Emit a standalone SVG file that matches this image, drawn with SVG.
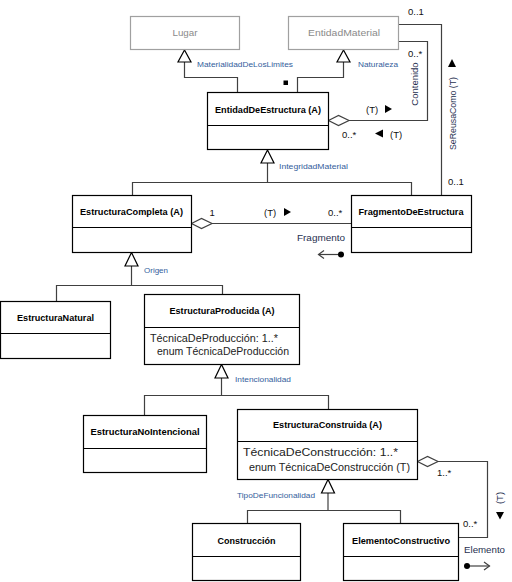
<svg xmlns="http://www.w3.org/2000/svg" width="512" height="582" viewBox="0 0 512 582">
<style>
.box{fill:#fff;stroke:#000;stroke-width:1.2}
.gbox{fill:#fff;stroke:#a0a0a0;stroke-width:1.2}
.div{stroke:#000;stroke-width:1.2}
.ln{fill:none;stroke:#404040;stroke-width:1.2}
.tri{fill:#fff;stroke:#000;stroke-width:1.2}
.dia{fill:#fff;stroke:#404040;stroke-width:1.2}
.sol{fill:#000;stroke:none}
text{font-family:"Liberation Sans",Arial,sans-serif}
.title{font-weight:bold;font-size:9.5px;fill:#000;text-anchor:middle}
.gtitle{font-size:9.5px;fill:#8a8a8a;text-anchor:middle}
.lbl{font-size:7.5px;fill:#34609c}
.nav{font-size:9.5px;fill:#1f3050}
.mult{font-size:9.5px;fill:#111}
.attr{font-size:10px;fill:#222}
</style>
<g id="connectors">
  <polyline class="ln" points="184.5,62 184.5,77.5 237.5,77.5 237.5,92.5"/>
  <polygon class="tri" points="184.5,50 178,62 191,62"/>
  <polyline class="ln" points="343.5,62 343.5,77.5 297.5,77.5 297.5,92.5"/>
  <polygon class="tri" points="343.5,50 337,62 350,62"/>
  <rect class="sol" x="283.5" y="80.5" width="4.5" height="4.5"/>
  <polyline class="ln" points="267.5,163 267.5,182.5"/>
  <polyline class="ln" points="132.5,195.5 132.5,182.5 411.5,182.5 411.5,195.5"/>
  <polygon class="tri" points="267.5,150 261,163 274,163"/>
  <polyline class="ln" points="398.5,41.5 427.5,41.5 427.5,120.5 349,120.5"/>
  <polygon class="dia" points="328.5,120.5 338.5,115.5 349,120.5 338.5,125.5"/>
  <polyline class="ln" points="398.5,24.5 441.5,24.5 441.5,195.5"/>
  <line class="ln" x1="212" y1="223.5" x2="351.5" y2="223.5"/>
  <polygon class="dia" points="191.5,223.5 201.5,218.5 212,223.5 201.5,228.5"/>
  <polyline class="ln" points="131.5,266 131.5,285.5"/>
  <polyline class="ln" points="56.5,301.5 56.5,285.5 222.5,285.5 222.5,294.5"/>
  <polygon class="tri" points="131.5,252.5 125,266 138,266"/>
  <polyline class="ln" points="221.5,378 221.5,395.5"/>
  <polyline class="ln" points="144.5,415.5 144.5,395.5 328.5,395.5 328.5,409.5"/>
  <polygon class="tri" points="221.5,364.5 215,378 228,378"/>
  <polyline class="ln" points="328,493 328,510.5"/>
  <polyline class="ln" points="247.5,523.5 247.5,510.5 400.5,510.5 400.5,523.5"/>
  <polygon class="tri" points="328,479.5 321.5,493 334.5,493"/>
  <polyline class="ln" points="438,461.5 487.5,461.5 487.5,537.5 458.5,537.5"/>
  <polygon class="dia" points="417.5,461.5 427.5,456.5 438,461.5 427.5,466.5"/>

  <text class="lbl" x="197" y="67" textLength="96" lengthAdjust="spacingAndGlyphs">MaterialidadDeLosLimites</text>
  <text class="lbl" x="358" y="67" textLength="40" lengthAdjust="spacingAndGlyphs">Naturaleza</text>
  <text class="lbl" x="279" y="168.5" textLength="69" lengthAdjust="spacingAndGlyphs">IntegridadMaterial</text>
  <text class="lbl" x="144" y="273" textLength="24" lengthAdjust="spacingAndGlyphs">Origen</text>
  <text class="lbl" x="235" y="382" textLength="56" lengthAdjust="spacingAndGlyphs">Intencionalidad</text>
  <text class="lbl" x="237" y="498" textLength="78" lengthAdjust="spacingAndGlyphs">TipoDeFuncionalidad</text>

  <text class="mult" x="408" y="14.5">0..1</text>
  <text class="mult" x="408" y="56.5">0..*</text>
  <text class="nav" transform="translate(418,84) rotate(-90)" text-anchor="middle">Contenido</text>
  <polygon class="sol" points="448,67 456,67 452,59"/>
  <text class="nav" transform="translate(455.5,113.5) rotate(-90)" text-anchor="middle" textLength="73" lengthAdjust="spacingAndGlyphs">SeReusaComo (T)</text>
  <text class="mult" x="366" y="112.5">(T)</text>
  <polygon class="sol" points="385,105 385,113 392,109"/>
  <text class="mult" x="342" y="137.5">0..*</text>
  <polygon class="sol" points="383,129.5 383,137.5 375,133.5"/>
  <text class="mult" x="390" y="137.5">(T)</text>
  <text class="mult" x="448" y="184.5">0..1</text>

  <text class="mult" x="209.5" y="215.5">1</text>
  <text class="mult" x="264" y="215.5">(T)</text>
  <polygon class="sol" points="284,208 284,216 291,212"/>
  <text class="mult" x="328" y="215.5">0..*</text>
  <text class="nav" x="297" y="240.5" textLength="48" lengthAdjust="spacingAndGlyphs">Fragmento</text>
  <line class="ln" x1="318.5" y1="254.5" x2="341" y2="254.5"/>
  <polyline class="ln" points="324,250.5 318.5,254.5 324,258.5"/>
  <circle class="sol" cx="341" cy="254.5" r="3"/>

  <text class="mult" x="437" y="475.5">1..*</text>
  <text class="mult" x="463" y="527">0..*</text>
  <text class="nav" transform="translate(503,498) rotate(-90)" text-anchor="middle">(T)</text>
  <polygon class="sol" points="496,512 504,512 500,519.5"/>
  <text class="nav" x="464" y="553" textLength="41" lengthAdjust="spacingAndGlyphs">Elemento</text>
  <line class="ln" x1="467" y1="566" x2="489.5" y2="566"/>
  <polyline class="ln" points="484,562 489.5,566 484,570"/>
  <circle class="sol" cx="467" cy="566" r="3"/>
</g>
<g id="Lugar">
  <rect class="gbox" x="130.5" y="16.5" width="109" height="33"/>
  <text class="gtitle" x="185" y="36" textLength="25" lengthAdjust="spacingAndGlyphs">Lugar</text>
</g>
<g id="EntidadMaterial">
  <rect class="gbox" x="288.5" y="16.5" width="110" height="33"/>
  <text class="gtitle" x="344" y="36" textLength="72" lengthAdjust="spacingAndGlyphs">EntidadMaterial</text>
</g>
<g id="EntidadDeEstructura">
  <rect class="box" x="207.5" y="92.5" width="121" height="57"/>
  <line class="div" x1="207.5" y1="125.5" x2="328.5" y2="125.5"/>
  <text class="title" x="268" y="112.5" textLength="106" lengthAdjust="spacingAndGlyphs">EntidadDeEstructura (A)</text>
</g>
<g id="EstructuraCompleta">
  <rect class="box" x="72.5" y="195.5" width="119" height="57"/>
  <line class="div" x1="72.5" y1="227.5" x2="191.5" y2="227.5"/>
  <text class="title" x="131.5" y="214.5" textLength="103" lengthAdjust="spacingAndGlyphs">EstructuraCompleta (A)</text>
</g>
<g id="FragmentoDeEstructura">
  <rect class="box" x="351.5" y="195.5" width="120" height="57"/>
  <line class="div" x1="351.5" y1="227.5" x2="471.5" y2="227.5"/>
  <text class="title" x="411" y="214.5" textLength="105" lengthAdjust="spacingAndGlyphs">FragmentoDeEstructura</text>
</g>
<g id="EstructuraNatural">
  <rect class="box" x="0.5" y="301.5" width="110" height="57"/>
  <line class="div" x1="0.5" y1="333.5" x2="110.5" y2="333.5"/>
  <text class="title" x="55.5" y="320.5" textLength="77" lengthAdjust="spacingAndGlyphs">EstructuraNatural</text>
</g>
<g id="EstructuraProducida">
  <rect class="box" x="144.5" y="294.5" width="155" height="70"/>
  <line class="div" x1="144.5" y1="327.5" x2="299.5" y2="327.5"/>
  <text class="title" x="222" y="313.5" textLength="105" lengthAdjust="spacingAndGlyphs">EstructuraProducida (A)</text>
  <text class="attr" x="150" y="341.5" textLength="128" lengthAdjust="spacingAndGlyphs">TécnicaDeProducción: 1..*</text>
  <text class="attr" x="157" y="355" textLength="132" lengthAdjust="spacingAndGlyphs">enum TécnicaDeProducción</text>
</g>
<g id="EstructuraNoIntencional">
  <rect class="box" x="83.5" y="415.5" width="123" height="57"/>
  <line class="div" x1="83.5" y1="448.5" x2="206.5" y2="448.5"/>
  <text class="title" x="145" y="435" textLength="109" lengthAdjust="spacingAndGlyphs">EstructuraNoIntencional</text>
</g>
<g id="EstructuraConstruida">
  <rect class="box" x="237.5" y="409.5" width="180" height="70"/>
  <line class="div" x1="237.5" y1="441.5" x2="417.5" y2="441.5"/>
  <text class="title" x="327.5" y="428" textLength="109" lengthAdjust="spacingAndGlyphs">EstructuraConstruida (A)</text>
  <text class="attr" x="243" y="456" textLength="155" lengthAdjust="spacingAndGlyphs">TécnicaDeConstrucción: 1..*</text>
  <text class="attr" x="249" y="470.5" textLength="161" lengthAdjust="spacingAndGlyphs">enum TécnicaDeConstrucción (T)</text>
</g>
<g id="Construccion">
  <rect class="box" x="192.5" y="523.5" width="108" height="57"/>
  <line class="div" x1="192.5" y1="556.5" x2="300.5" y2="556.5"/>
  <text class="title" x="246.5" y="543.5" textLength="58" lengthAdjust="spacingAndGlyphs">Construcción</text>
</g>
<g id="ElementoConstructivo">
  <rect class="box" x="343.5" y="523.5" width="115" height="57"/>
  <line class="div" x1="343.5" y1="556.5" x2="458.5" y2="556.5"/>
  <text class="title" x="401" y="543.5" textLength="98" lengthAdjust="spacingAndGlyphs">ElementoConstructivo</text>
</g>
</svg>
